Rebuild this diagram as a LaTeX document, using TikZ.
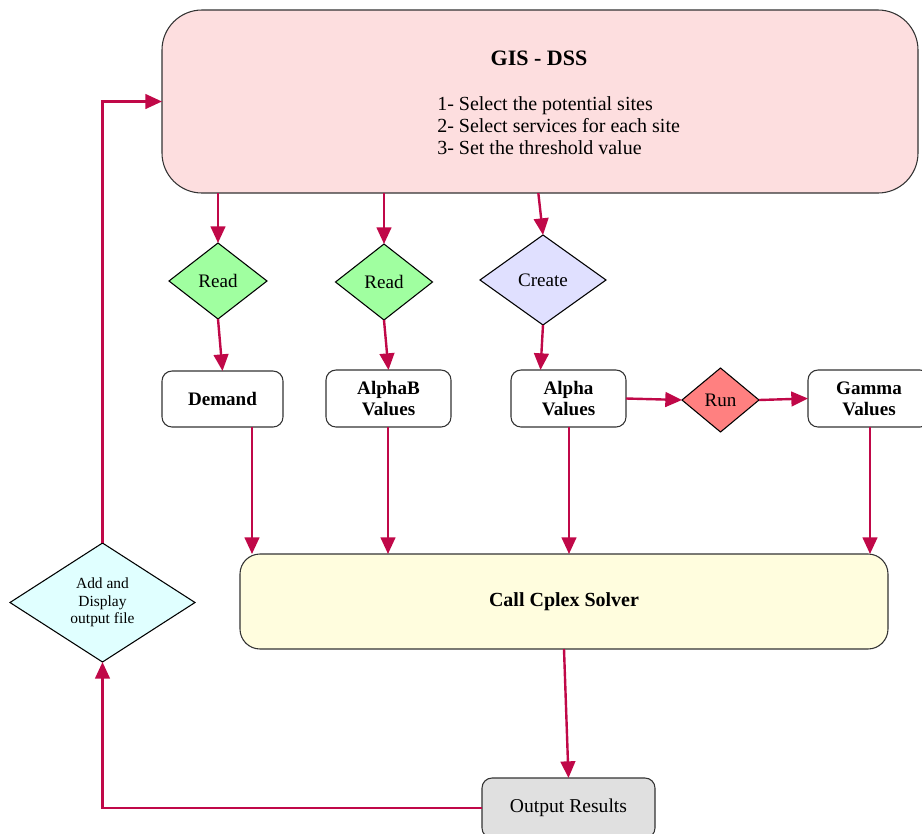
\documentclass[tikz,border=0pt]{standalone}
\usepackage{fontspec}
\setmainfont{Liberation Serif}
\usetikzlibrary{shapes.geometric,arrows.meta}
\definecolor{arrowc}{RGB}{192,8,72}
\definecolor{gisfill}{RGB}{253,222,223}
\definecolor{readfill}{RGB}{160,255,160}
\definecolor{createfill}{RGB}{224,224,255}
\definecolor{runfill}{RGB}{255,128,128}
\definecolor{cplexfill}{RGB}{255,253,222}
\definecolor{addfill}{RGB}{224,255,255}
\definecolor{outfill}{RGB}{224,224,224}
\begin{document}
\begin{tikzpicture}[x=0.75pt,y=-0.75pt,
  box/.style={draw=black!80, line width=0.8pt, inner sep=0pt, outer sep=0pt, align=center},
  smallbox/.style={box, rounded corners=7.5pt, font=\fontsize{14.3}{15.8}\selectfont\bfseries},
  dia/.style={diamond, draw=black, line width=0.8pt, inner sep=0pt, outer sep=0pt, align=center, font=\fontsize{14.3}{15.8}\selectfont},
  arr/.style={draw=arrowc, line width=1.8pt, -{Triangle[length=12.5pt,width=11pt]}}
]
\useasboundingbox (0,0) rectangle (922,833);
% main boxes
\node[box, fill=gisfill, rounded corners=30pt, minimum width=567pt, minimum height=137.25pt] (gis) at (540,101.5) {};
\node[font=\fontsize{16.5}{18}\selectfont\bfseries, inner sep=0pt] (gistitle) at (539,58) {GIS - DSS};
\node[font=\fontsize{15}{16.5}\selectfont, align=left, anchor=west, inner sep=0pt] (gislist) at (437,126) {1- Select the potential sites\\2- Select services for each site\\3- Set the threshold value};
% diamonds
\node[dia, fill=readfill, aspect=1.289, minimum width=73.5pt, minimum height=57pt] (read1) at (218,281) {Read};
\node[dia, fill=readfill, aspect=1.276, minimum width=72.75pt, minimum height=57pt] (read2) at (384,282) {Read};
\node[dia, fill=createfill, aspect=1.4, minimum width=94.5pt, minimum height=67.5pt] (create) at (543,280) {Create};
\node[dia, fill=runfill, aspect=1.203, minimum width=57.75pt, minimum height=48pt] (run) at (720.5,400) {Run};
\node[dia, fill=addfill, aspect=1.555, minimum width=138.75pt, minimum height=89.25pt, font=\fontsize{11.6}{13.2}\selectfont] (adddisp) at (102.5,602.5) {Add and\\Display\\output file};
% value boxes
\node[smallbox, minimum width=90.75pt, minimum height=42pt] (demand) at (222.5,399) {Demand};
\node[smallbox, minimum width=93.75pt, minimum height=42.75pt] (alphab) at (388.5,398.5) {AlphaB\\Values};
\node[smallbox, minimum width=86.25pt, minimum height=42.75pt] (alpha) at (568.5,398.5) {Alpha\\Values};
\node[smallbox, minimum width=91.5pt, minimum height=42.75pt] (gamma) at (869,398.5) {Gamma\\Values};
\node[box, fill=cplexfill, rounded corners=15pt, minimum width=486pt, minimum height=71.25pt, font=\fontsize{15}{16.5}\selectfont\bfseries] (cplex) at (564,601.5) {Call Cplex Solver};
\node[box, fill=outfill, rounded corners=7.5pt, minimum width=129.75pt, minimum height=45pt, font=\fontsize{14.7}{16}\selectfont] (output) at (568.5,808) {Output Results};
% entry points on the solver box
\coordinate (in1) at (252,554);
\coordinate (in2) at (388,554);
\coordinate (in3) at (569,554);
\coordinate (in4) at (870,554);
% connectors
\draw[arr] (read1.north |- gis.south) -- (read1.north);
\draw[arr] (read2.north |- gis.south) -- (read2.north);
\draw[arr] ([xshift=-3.5pt]create.north |- gis.south) -- (create.north);
\draw[arr] (read1.south) -- (demand.north);
\draw[arr] (read2.south) -- (alphab.north);
\draw[arr] (create.south) -- ([xshift=-21pt]alpha.north);
\draw[arr] (alpha.east) -- (run.west);
\draw[arr] (run.east) -- (gamma.west);
\draw[arr] (demand.south -| in1) -- (in1);
\draw[arr] (alphab.south -| in2) -- (in2);
\draw[arr] (alpha.south -| in3) -- (in3);
\draw[arr] (gamma.south -| in4) -- (in4);
\draw[arr] (cplex.south) -- (output.north);
\draw[arr] (output.west) -| (adddisp.south);
\draw[arr] (adddisp.north) |- (gis.west);
\end{tikzpicture}
\end{document}
